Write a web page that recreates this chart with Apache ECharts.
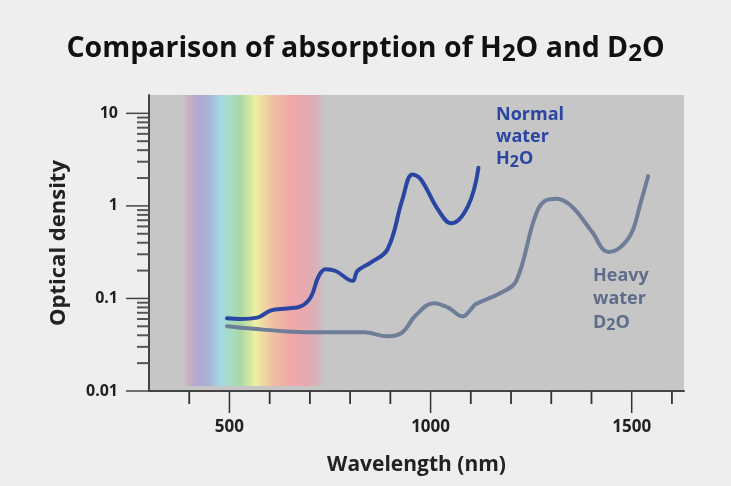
<!DOCTYPE html>
<html><head><meta charset="utf-8">
<script src="https://cdn.jsdelivr.net/npm/echarts@6/dist/echarts.min.js"></script>
<style>html,body{margin:0;padding:0;background:#eeeeee}#c{width:731px;height:486px}</style>
</head><body><div id="c"></div>
<script>
// ---- data ----
const h2oWavelength = [494, 527, 569, 602, 644, 677, 702, 722, 739, 764, 806, 818, 851, 893, 930, 955, 976, 1018, 1051, 1093, 1119];
const h2oDensity    = [0.061, 0.060, 0.062, 0.074, 0.078, 0.082, 0.103, 0.175, 0.207, 0.198, 0.155, 0.198, 0.244, 0.34, 1.175, 2.19, 1.93, 0.917, 0.648, 0.995, 2.58];
const d2oWavelength = [494, 560, 644, 727, 835, 893, 930, 962, 1009, 1043, 1080, 1101, 1113, 1176, 1213, 1259, 1284, 1313, 1350, 1400, 1442, 1471, 1500, 1520, 1541];
const d2oDensity    = [0.050, 0.047, 0.044, 0.043, 0.043, 0.039, 0.043, 0.065, 0.089, 0.080, 0.064, 0.077, 0.087, 0.116, 0.155, 0.746, 1.13, 1.196, 0.995, 0.535, 0.318, 0.355, 0.514, 0.995, 2.10];
const yTickLabels = [0.01, 0.1, 1, 10];
const yMinorMultipliers = [2, 3, 4, 5, 6, 7, 8, 9];
const xTickLabels = [500, 1000, 1500];
const xTicks = [400, 500, 600, 700, 800, 900, 1000, 1100, 1200, 1300, 1400, 1500, 1600];
const spectrumNm     = [385, 398, 423, 448, 477, 506, 527, 564, 605, 647, 688, 721, 738];
const spectrumColors = ['#c6c6c6', '#c8b0c2', '#b2a6d2', '#a8b2d8', '#a2d8e2', '#a8dcc2', '#a8d8a2', '#eef0a2', '#f0c2a2', '#f0a8a8', '#e8a8b0', '#d4b4b8', '#c6c6c6'];
const xMin = 300, xMax = 1630, yMin = 0.01, yMax = 15.78;

const FONT = 'Open Sans';
const yMinorTicks = [];
yTickLabels.slice(0, 3).forEach(d => yMinorMultipliers.forEach(m => yMinorTicks.push(d * m)));

const chart = echarts.init(document.getElementById('c'), null, {renderer: 'canvas'});

function isIn(list, v) { return list.some(t => Math.abs(t - v) / t < 1e-6); }

const spStart = spectrumNm[0], spEnd = spectrumNm[spectrumNm.length - 1];
const spStops = spectrumNm.map((nm, i) => ({offset: (nm - spStart) / (spEnd - spStart), color: spectrumColors[i]}));

chart.setOption({
  backgroundColor: '#eeeeee',
  animation: false,
  title: {
    text: 'Comparison of absorption of H{s|2}O and D{s|2}O',
    left: 'center', top: 27,
    textStyle: {
      fontFamily: FONT, fontWeight: 'bold', fontSize: 28.5, color: '#111',
      rich: {s: {fontFamily: FONT, fontWeight: 'bold', fontSize: 24, color: '#111', padding: [10, 0, 0, 0]}}
    }
  },
  grid: {left: 149, top: 95, right: 47, bottom: 95, show: true, backgroundColor: '#c6c6c6', borderWidth: 0},
  xAxis: {
    type: 'value', min: xMin, max: xMax, interval: 100,
    name: 'Wavelength (nm)', nameLocation: 'middle', nameGap: 64,
    nameTextStyle: {fontFamily: FONT, fontWeight: 'bold', fontSize: 21, color: '#222'},
    axisLine: {show: true, lineStyle: {color: '#444', width: 2}},
    axisTick: {show: false}, splitLine: {show: false},
    axisLabel: {
      margin: 28, fontFamily: FONT, fontWeight: 'bold', fontSize: 17, color: '#222',
      formatter: v => isIn(xTickLabels, v) ? String(v) : ''
    }
  },
  yAxis: {
    type: 'log', logBase: 10, min: yMin, max: yMax,
    name: 'Optical density', nameLocation: 'middle', nameGap: 79, nameRotate: 90,
    nameTextStyle: {fontFamily: FONT, fontWeight: 'bold', fontSize: 22, color: '#222'},
    axisLine: {show: true, lineStyle: {color: '#444', width: 2}},
    axisTick: {show: false}, splitLine: {show: false}, minorTick: {show: false},
    axisLabel: {
      margin: 31, fontFamily: FONT, fontWeight: 'bold', fontSize: 16, color: '#222',
      formatter: v => isIn(yTickLabels, v) ? String(yTickLabels.find(t => Math.abs(t - v) / t < 1e-6)) : ''
    }
  },
  graphic: [
    {type: 'text', left: 496, top: 104, z: 100, style: {
      text: 'Normal\nwater\nH{s|2}O', fill: '#2a46a2', fontFamily: FONT, fontWeight: 'bold', fontSize: 18, lineHeight: 22,
      rich: {s: {fill: '#2a46a2', fontFamily: FONT, fontWeight: 'bold', fontSize: 16, padding: [6, 0, 0, 0]}}
    }},
    {type: 'text', left: 593, top: 264, z: 100, style: {
      text: 'Heavy\nwater\nD{s|2}O', fill: '#5f6d8a', fontFamily: FONT, fontWeight: 'bold', fontSize: 18, lineHeight: 23.5,
      rich: {s: {fill: '#5f6d8a', fontFamily: FONT, fontWeight: 'bold', fontSize: 16, padding: [6, 0, 0, 0]}}
    }}
  ],
  series: [
    {
      type: 'custom', name: 'spectrum', silent: true, z: 1,
      data: [[spStart, spEnd]],
      renderItem: (params, api) => {
        const cs = params.coordSys;
        const x0 = api.coord([api.value(0), 1])[0];
        const x1 = api.coord([api.value(1), 1])[0];
        return {type: 'rect', shape: {x: x0, y: cs.y, width: x1 - x0, height: cs.height - 5},
          style: {fill: new echarts.graphic.LinearGradient(0, 0, 1, 0, spStops)}};
      }
    },
    {
      type: 'custom', name: 'yticks', silent: true, z: 5, clip: false,
      data: yTickLabels.concat(yMinorTicks).map(v => [xMin, v]),
      renderItem: (params, api) => {
        const v = api.value(1);
        const p = api.coord([xMin, v]);
        const major = isIn(yTickLabels, v);
        const len = major ? 23 : 12;
        return {type: 'line', shape: {x1: p[0] - len, y1: p[1], x2: p[0], y2: p[1]},
          style: {stroke: major ? '#444' : '#555', lineWidth: major ? 1.5 : 2}};
      }
    },
    {
      type: 'custom', name: 'xticks', silent: true, z: 5, clip: false,
      data: xTicks.map(v => [v, yMin]),
      renderItem: (params, api) => {
        const v = api.value(0);
        const p = api.coord([v, yMin]);
        const major = isIn(xTickLabels, v);
        const len = major ? 22 : 13;
        return {type: 'line', shape: {x1: p[0], y1: p[1], x2: p[0], y2: p[1] + len},
          style: {stroke: '#333', lineWidth: major ? 1.5 : 1.8}};
      }
    },
    {
      type: 'line', name: 'D2O', z: 3, smooth: 0.4, symbol: 'none',
      data: d2oWavelength.map((w, i) => [w, d2oDensity[i]]),
      lineStyle: {color: '#6e7d98', width: 4, cap: 'round', join: 'round'}
    },
    {
      type: 'line', name: 'H2O', z: 4, smooth: 0.4, symbol: 'none',
      data: h2oWavelength.map((w, i) => [w, h2oDensity[i]]),
      lineStyle: {color: '#2a46a2', width: 4, cap: 'round', join: 'round'}
    }
  ]
});
</script>
</body></html>
